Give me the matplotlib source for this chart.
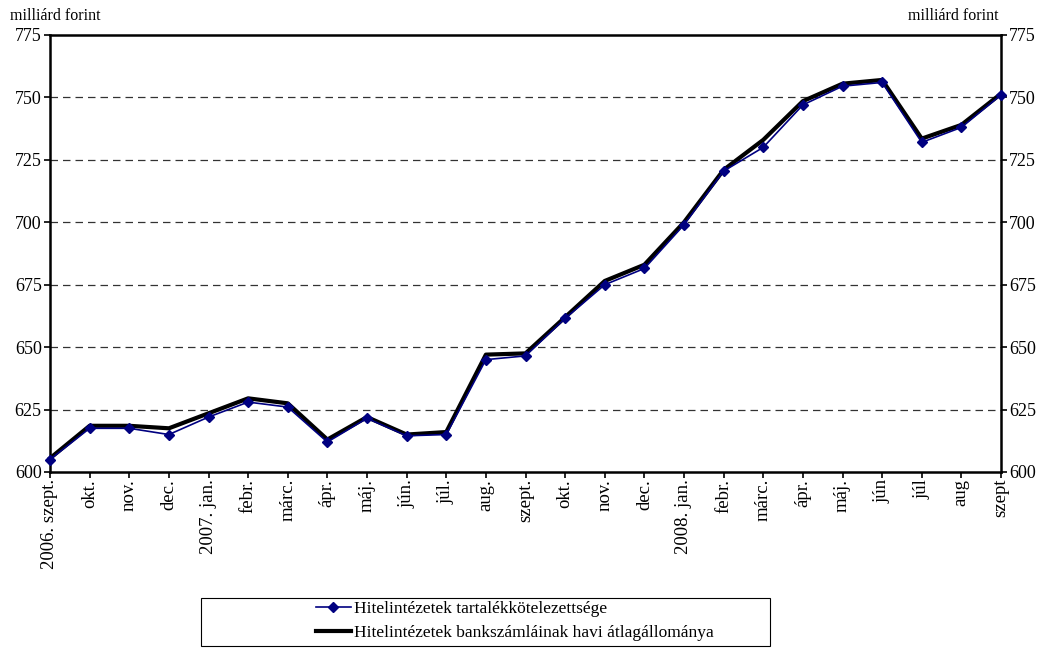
import matplotlib
matplotlib.use("Agg")
import matplotlib.pyplot as plt
from matplotlib.patches import Rectangle

labels = ["2006. szept.", "okt.", "nov.", "dec.", "2007. jan.", "febr.", "márc.", "ápr.",
          "máj.", "jún.", "júl.", "aug.", "szept.", "okt.", "nov.", "dec.", "2008. jan.",
          "febr.", "márc.", "ápr.", "máj.", "jún", "júl", "aug", "szept"]
tartalek = [605, 617.5, 617.5, 615, 622, 628, 626, 612, 621.5, 614.5, 615, 645, 646.5,
            661.5, 675, 681.5, 699, 720.5, 730, 747, 754.5, 756, 732, 738, 751]
bankszamla = [605.5, 618.5, 618.5, 617.5, 623.5, 629.5, 627.5, 613, 622, 615, 616, 647, 647.5,
              662, 676.5, 683, 700, 721, 733, 748.5, 755.5, 757, 733.5, 739, 751.5]
yticks = [600, 625, 650, 675, 700, 725, 750, 775]

plt.rcParams['font.family'] = ['Liberation Serif', 'DejaVu Serif']
fig = plt.figure(figsize=(10.46, 6.48), dpi=100)
ax = fig.add_axes([50/1046, 1-472/648, (1001-50)/1046, (472-35)/648])
x = list(range(len(labels)))

for yv in yticks[1:-1]:
    ax.axhline(yv, color='#333333', linestyle=(0, (6, 4)), linewidth=0.9, zorder=1)

l2, = ax.plot(x, bankszamla, color='black', linewidth=3, zorder=3, clip_on=False,
              label='Hitelintézetek bankszámláinak havi átlagállománya')
l1, = ax.plot(x, tartalek, color='#000080', linewidth=1.2, marker='D', markersize=5,
              zorder=4, clip_on=False, label='Hitelintézetek tartalékkötelezettsége')

ax.set_xlim(0, 24)
ax.set_ylim(600, 775)
ax.set_yticks(yticks)
ax.set_xticks(x)
ax.set_xticklabels(labels, rotation=90, fontsize=13.5)
ax.tick_params(axis='y', labelsize=13, direction='out', length=4, width=1.2, color='black', pad=2)
ax.tick_params(axis='x', direction='out', length=4, width=1.2, color='black', pad=1)
ax.tick_params(axis='y', which='both', left=True, right=True, labelleft=True, labelright=True)
for s in ax.spines.values():
    s.set_linewidth(1.8)
    s.set_color('black')

fig.text(10/1046, 1-16/648, 'milliárd forint', fontsize=11.5, ha='left', va='center')
fig.text(998/1046, 1-16/648, 'milliárd forint', fontsize=11.5, ha='right', va='center')

fig.patches.append(Rectangle((201/1046, 1-646/648), (770-201)/1046, (646-598)/648,
                             transform=fig.transFigure, fill=False, edgecolor='black',
                             linewidth=0.8))
fig.legend(handles=[l1, l2], loc='center', bbox_to_anchor=(515/1046, 1-621/648),
           frameon=False, fontsize=12.5, handlelength=2.0, handletextpad=0.2,
           labelspacing=0.45, borderpad=0.2)

fig.savefig('out.png', dpi=100)
